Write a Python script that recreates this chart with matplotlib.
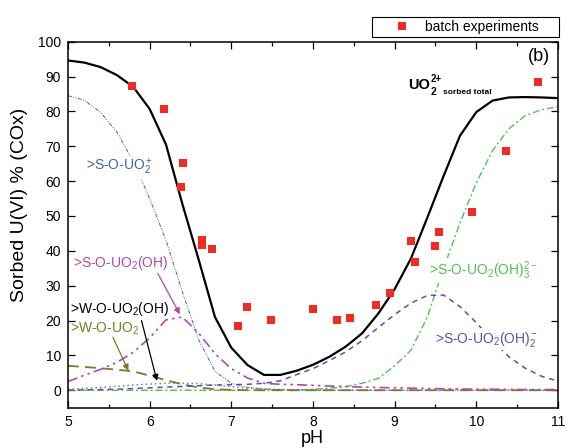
import numpy as np
import matplotlib
matplotlib.use('Agg')
import matplotlib.pyplot as plt
from matplotlib.legend_handler import HandlerLine2D

plt.rcParams['font.family'] = ['Liberation Sans', 'DejaVu Sans']
plt.rcParams['mathtext.fontset'] = 'custom'
plt.rcParams['mathtext.rm'] = 'Liberation Sans'
plt.rcParams['mathtext.it'] = 'Liberation Sans:italic'
plt.rcParams['mathtext.bf'] = 'Liberation Sans:bold'

# model pH grid
ph = [5.0, 5.2, 5.4, 5.6, 5.8, 6.0, 6.2, 6.4, 6.6, 6.8,
      7.0, 7.2, 7.4, 7.6, 7.8, 8.0, 8.2, 8.4, 8.6, 8.8,
      9.0, 9.2, 9.4, 9.6, 9.8, 10.0, 10.2, 10.4, 10.6, 10.8, 11.0]

total = [94.6, 94.0, 92.7, 90.4, 87.0, 80.7, 70.5, 53.5, 37.5, 21.0,
         12.2, 7.2, 4.4, 4.4, 5.6, 7.3, 9.6, 12.5, 16.3, 22.0,
         29.0, 37.8, 49.5, 61.5, 73.0, 79.8, 83.1, 84.0, 84.1, 84.0, 83.8]
s_uo2 = [84.5, 83.2, 79.7, 74.0, 65.6, 55.0, 43.0, 28.3, 14.5, 5.4,
         2.0, 0.8, 0.4, 0.2, 0.1, 0, 0, 0, 0, 0,
         0, 0, 0, 0, 0, 0, 0, 0, 0, 0, 0]
s_uo2oh = [2.5, 4.3, 6.0, 8.0, 10.9, 15.0, 20.2, 21.0, 16.4, 10.5,
           6.2, 3.5, 2.0, 1.7, 1.6, 1.4, 1.2, 1.1, 0.9, 0.8,
           0.7, 0.6, 0.5, 0.4, 0.35, 0.3, 0.3, 0.25, 0.2, 0.2, 0.2]
w_uo2 = [7.0, 6.7, 6.3, 5.9, 5.4, 4.2, 2.9, 1.7, 0.8, 0.3,
         0.1, 0, 0, 0, 0, 0, 0, 0, 0, 0,
         0, 0, 0, 0, 0, 0, 0, 0, 0, 0, 0]
w_uo2oh = [0.3, 0.5, 0.8, 1.1, 1.5, 1.8, 2.0, 2.0, 1.9, 1.5,
           1.0, 0.6, 0.3, 0.2, 0.1, 0, 0, 0, 0, 0,
           0, 0, 0, 0, 0, 0, 0, 0, 0, 0, 0]
s_uo2oh2 = [0.0, 0.1, 0.2, 0.3, 0.5, 0.7, 0.9, 1.1, 1.3, 1.5,
            1.6, 1.7, 2.0, 2.7, 4.5, 6.2, 8.5, 11.0, 14.2, 18.0,
            21.7, 25.0, 27.2, 27.3, 24.0, 19.4, 14.2, 9.6, 6.3, 4.0, 2.6]
s_uo2oh3 = [0, 0, 0, 0, 0, 0, 0, 0, 0, 0,
            0, 0, 0, 0, 0, 0.3, 0.6, 1.0, 2.0, 3.4,
            7.0, 11.5, 21.0, 35.0, 48.0, 59.5, 68.8, 75.0, 78.8, 80.5, 81.3]

# batch sorption data
exp_ph = [5.78, 6.17, 6.38, 6.41, 6.64, 6.64, 6.76, 7.08, 7.19, 7.48, 8.00,
          8.30, 8.45, 8.77, 8.94, 9.20, 9.25, 9.50, 9.54, 9.95, 10.36, 10.75]
exp_sorb = [87.4, 80.8, 58.2, 65.3, 43.0, 41.6, 40.5, 18.3, 23.8, 20.2, 23.4,
            20.1, 20.6, 24.4, 27.8, 42.9, 36.7, 41.5, 45.5, 51.2, 68.6, 88.3]

c_blue = '#4060b8'
c_mag = '#b048b0'
c_olive = '#7a7a28'
c_green = '#50c050'
c_purple = '#5a50b0'
c_grey = '#7a7a9a'

fig = plt.figure(figsize=(5.66, 4.48), dpi=100)
ax = fig.add_axes([0.1201, 0.090, 0.8657, 0.817])

ax.plot(ph, s_uo2oh3, color=c_green, lw=1.0, dashes=(5, 2, 1.5, 2))
ax.plot(ph, s_uo2, color=c_blue, lw=0.7, dashes=(4, 1.5, 1, 1.5, 1, 1.5))
ax.plot(ph, w_uo2oh, color=c_grey, lw=1.1, dashes=(1, 2))
ax.plot(ph, w_uo2, color=c_olive, lw=1.3, dashes=(6, 3.5))
ax.plot(ph, s_uo2oh2, color=c_purple, lw=1.1, dashes=(3.5, 3))
ax.plot(ph, s_uo2oh, color=c_mag, lw=1.2, dashes=(6, 2.5, 1.5, 2.5, 1.5, 2.5))
ax.plot(ph, total, color='black', lw=1.6)
pts, = ax.plot(exp_ph, exp_sorb, 's', ls='none', color='#ee2b24', ms=5.4,
               mew=0, zorder=4, label='batch experiments')

box = dict(boxstyle='square,pad=0.1', fc='white', ec='none')
ax.text(5.22, 64.0, r'>S-O-UO$_2^+$', color=c_blue, fontsize=10,
        va='center', bbox=box, zorder=5)
ax.text(5.06, 36.6, r'>S-O-UO$_2$(OH)', color=c_mag, fontsize=10,
        va='center', zorder=5)
ax.text(5.02, 23.4, r'>W-O-UO$_2$(OH)', color='black', fontsize=10,
        va='center', zorder=5)
ax.text(5.02, 17.6, r'>W-O-UO$_2$', color=c_olive, fontsize=10,
        va='center', zorder=5)
ax.text(9.42, 34.3, r'>S-O-UO$_2$(OH)$_3^{2-}$', color=c_green, fontsize=10,
        va='center', bbox=box, zorder=5)
ax.text(9.49, 14.7, r'>S-O-UO$_2$(OH)$_2^-$', color=c_purple, fontsize=10,
        va='center', bbox=box, zorder=5)

# arrows from the labels to their curves
arw = dict(arrowstyle='-|>', lw=0.9, mutation_scale=9, shrinkA=0, shrinkB=0)
ax.annotate('', xy=(6.37, 21.8), xytext=(6.10, 33.5),
            arrowprops=dict(arw, color=c_mag))
ax.annotate('', xy=(6.09, 2.7), xytext=(5.90, 20.0),
            arrowprops=dict(arw, color='black'))
ax.annotate('', xy=(5.74, 5.6), xytext=(5.55, 15.2),
            arrowprops=dict(arw, color=c_olive))

ax.text(10.77, 95.8, '(b)', fontsize=13, ha='center', va='center')
ax.text(9.16, 86.5, 'UO', fontsize=10.5, fontweight='bold', va='baseline')
ax.text(9.44, 89.4, '2+', fontsize=7, fontweight='bold', va='center')
ax.text(9.44, 84.8, '2', fontsize=7.5, fontweight='bold', va='baseline')
ax.text(9.59, 84.9, 'sorbed total', fontsize=6, fontweight='bold', va='baseline')

ax.set_xlim(5, 11)
ax.set_ylim(-5, 100)
ax.set_xticks([5, 6, 7, 8, 9, 10, 11])
ax.set_xticks(np.arange(5.5, 11, 1.0), minor=True)
ax.set_yticks([0, 10, 20, 30, 40, 50, 60, 70, 80, 90, 100])
ax.tick_params(which='both', direction='in', top=True, right=True,
               labelsize=10, width=0.9)
ax.tick_params(which='major', length=5, pad=5)
ax.tick_params(which='minor', length=3)
for sp in ax.spines.values():
    sp.set_linewidth(1.1)

ax.set_xlabel('pH', fontsize=13)
ax.set_ylabel('Sorbed U(VI) % (COx)', fontsize=14)
ax.xaxis.set_label_coords(0.498, -0.062)
ax.yaxis.set_label_coords(-0.082, 0.554)

leg = ax.legend(handles=[pts], loc='lower left',
                bbox_to_anchor=(0.620, 1.0137, 0.3816, 0.05), mode='expand',
                borderaxespad=0, fontsize=10, fancybox=False, framealpha=1,
                edgecolor='black', borderpad=0.2, handlelength=2.0,
                handletextpad=1.6,
                handler_map={pts: HandlerLine2D(xpad=2)})
leg.get_frame().set_linewidth(0.8)

fig.savefig('out.png', dpi=100)
